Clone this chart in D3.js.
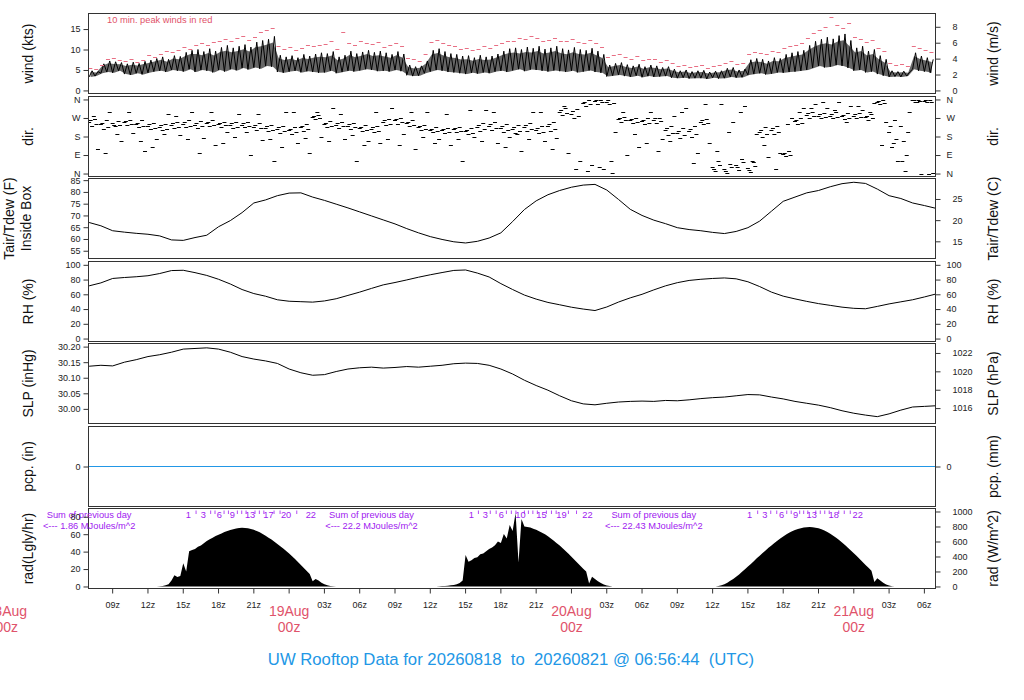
<!DOCTYPE html>
<html>
<head>
<meta charset="utf-8">
<title>UW Rooftop Data</title>
<script src="https://cdn.jsdelivr.net/npm/d3@7"></script>
<style>
  body { margin: 0; background: #fff; }
  text { font-family: "Liberation Sans", Arial, Helvetica, sans-serif; }
</style>
</head>
<body>
<div id="chart"></div>
<script>
// all times are hours counted from 2026-08-18 00:00 UTC
const T0 = Date.UTC(2026, 7, 18);
const tStart = 6 + 56 / 60 + 44 / 3600;
const tEnd = tStart + 72;

// half-hourly wind envelope and 10 min peaks (kts), from 07z 18 Aug
const windLo = [
  3.3,3.5, 4.2,4.5, 4.3,4.8, 4.0,3.8, 4.2,3.9, 4.3,4.6,
  4.8,4.5, 5.0,4.8, 4.6,5.2, 4.5,5.0, 4.8,4.4, 5.0,4.6,
  5.2,4.9, 5.5,5.1, 5.6,5.3, 6.0,5.8, 4.5,4.3, 4.6,4.8,
  4.4,4.7, 4.5,4.3, 4.4,4.8, 4.2,4.5, 4.8,4.6, 4.9,5.2,
  5.0,4.7, 4.8,4.6, 5.0,4.7, 3.7,3.5, 3.6,4.2, 4.6,5.0,
  4.8,4.5, 4.4,4.2, 4.0,4.3, 4.1,4.4, 4.2,4.6, 4.8,4.5,
  4.9,5.2, 4.7,5.1, 5.0,4.8, 4.6,4.9, 4.7,4.5, 4.8,4.4,
  4.6,4.9, 4.5,4.3, 3.4,3.6, 3.8,3.5, 3.3,3.6, 3.2,3.5,
  3.3,3.4, 3.5,3.1, 3.0,3.1, 2.9,3.0, 3.0,2.8, 3.1,2.9,
  3.0,3.3, 3.1,3.2, 3.8,4.0, 4.2,3.9, 4.1,4.4, 4.3,4.5,
  4.6,4.8, 5.0,5.5, 6.0,5.6, 5.8,6.2, 6.0,5.5, 4.8,5.0,
  4.4,4.6, 4.0,3.6, 3.3,3.4, 3.3,3.5, 5.2,4.8, 4.6,4.3
];
const windHi = [
  4.8,4.6, 6.5,7.2, 7.0,6.8, 6.5,6.9, 6.6,7.1, 7.4,7.8,
  8.2,7.6, 8.5,8.3, 9.3,9.8, 10.0,9.5, 10.2,9.6, 10.5,11.0,
  10.4,10.8, 11.2,10.6, 11.8,12.2, 12.5,13.2, 8.6,8.2, 8.5,8.0,
  8.8,8.4, 8.9,9.2, 9.0,9.5, 8.2,8.6, 9.6,9.0, 9.4,9.8,
  9.3,9.6, 9.2,8.8, 9.5,8.9, 6.2,5.8, 6.0,7.2, 9.8,10.2,
  9.5,9.0, 8.8,8.4, 8.5,8.0, 8.6,8.2, 8.4,8.9, 9.6,10.2,
  10.4,10.0, 10.6,10.3, 10.8,10.1, 10.4,10.8, 10.2,9.9, 10.5,10.0,
  9.8,10.3, 9.6,8.8, 6.2,6.6, 6.8,6.3, 6.0,6.4, 5.8,6.2,
  6.0,5.6, 5.8,5.2, 4.8,5.0, 4.6,4.8, 4.9,4.5, 4.7,4.8,
  5.4,5.6, 5.0,5.2, 7.5,7.8, 7.6,7.2, 8.0,7.8, 8.8,9.2,
  9.5,9.8, 11.0,12.0, 12.5,13.0, 12.6,13.4, 13.8,12.2, 10.4,10.8,
  9.6,10.0, 8.5,7.6, 4.8,4.6, 4.7,4.5, 9.2,8.4, 8.0,7.6
];
const windPeak = [
  5.6,5.3, 6.2,7.8, 8.0,7.4, 7.2,7.6, 7.0,7.4, 8.6,8.2,
  9.0,9.6, 9.4,10.0, 10.5,10.2, 11.2,11.6, 11.0,11.8, 12.2,12.6,
  12.0,12.8, 13.2,12.4, 13.0,14.2, 14.8,15.2, 10.8,10.2, 10.6,9.8,
  10.4,11.0, 10.8,11.2, 11.4,12.0, 10.2,14.4, 11.5,11.0, 12.0,11.6,
  11.4,11.8, 10.6,11.2, 11.5,10.9, 8.0,7.6, 7.2,8.8, 11.8,12.4,
  11.6,11.0, 10.8,10.2, 10.4,10.0, 10.2,10.8, 10.4,11.0, 11.5,12.0,
  12.2,12.8, 12.6,13.2, 12.9,12.2, 12.4,12.8, 12.2,12.0, 12.6,11.8,
  11.6,12.4, 11.6,10.6, 8.2,8.6, 8.8,8.2, 7.8,8.4, 7.4,7.8,
  7.6,7.0, 7.4,6.6, 6.0,6.3, 5.8,6.0, 6.2,5.6, 5.9,6.1,
  6.8,7.2, 6.4,6.6, 9.0,9.4, 9.2,8.8, 9.6,9.4, 10.4,10.8,
  11.2,11.6, 12.8,14.0, 14.8,15.6, 18.0,16.0, 15.2,16.4, 13.0,12.6,
  11.8,12.4, 10.4,9.6, 6.6,6.2, 6.4,6.0, 10.8,10.4, 9.8,9.4
];

// hourly wind direction samples (deg), from 07z 18 Aug
const dirA = [250,240,245,250,240,232,228,238,242,238,245,240,236,238,228,222,215,210,225,275,240,238,232,220,
  215,250,258,245,225,212,210,215,205,225,230,220,215,225,212,230,300,290,345,352,350,265,258,255,262,
  210,195,205,250,30,20,40,25,200,210,95,255,285,280,282,278,280,275,350,200,230,355,354];
const dirB = [230,215,230,235,225,215,210,220,225,222,230,228,222,225,212,205,195,190,205,265,225,222,215,205,
  200,235,240,230,210,200,198,200,190,205,210,200,195,205,195,205,285,270,330,340,338,250,245,240,248,
  185,175,180,240,10,5,15,8,180,190,85,240,270,268,270,265,268,262,340,130,160,348,346];
const dirC = [265,260,255,262,258,248,242,252,258,255,258,252,250,250,245,238,232,228,240,285,255,250,248,238,
  232,265,270,260,238,225,222,228,220,245,250,240,235,245,230,250,320,315,355,358,5,275,270,268,272,
  230,220,230,265,60,45,70,55,225,230,110,270,300,295,298,292,294,288,358,260,90,359,359];
const dirD = [258,248,238,255,248,240,235,245,250,246,252,246,244,244,236,230,224,218,232,280,248,244,240,228,
  224,258,264,252,232,218,216,222,212,235,240,230,225,235,222,240,310,302,350,355,356,270,264,262,268,
  220,205,215,258,20,12,30,18,212,220,100,262,292,288,290,285,287,282,354,230,60,357,356];
const dirE = [240,228,238,242,232,222,218,228,232,230,238,234,228,232,220,212,205,200,215,270,232,230,224,212,
  208,242,250,238,218,206,204,208,198,215,220,210,205,215,204,215,292,280,338,346,344,258,250,248,255,
  195,185,190,245,40,30,55,35,190,200,90,248,278,275,276,272,274,270,345,170,200,352,350];
const dirOut = [120,300,160,195,110,170,290,185,300,175,140,200,290,90,165,60,300,150,100,180,320,170,60,160,
  150,320,190,120,300,170,140,60,180,310,150,180,110,300,160,175,100,60,40,20,200,90,130,300,170,
  280,320,100,150,340,250,330,190,80,100,270,320,340,320,350,330,310,345,250,60,300,0,2];
const dirOut2 = [280,100,190,300,160,130,190,280,170,100,300,150,180,200,290,170,130,300,175,300,160,290,185,140,
  300,170,140,300,180,150,290,170,310,160,300,130,190,170,300,120,330,20,10,30,60,300,190,150,110,
  160,300,50,340,110,200,300,60,140,20,240,300,320,350,310,250,330,300,140,150,10,350,0];

// hourly air temperature (F), RH (%), sea level pressure (inHg), from 07z 18 Aug
const tempF = [67.0,65.6,63.5,62.9,62.4,62.0,61.3,59.6,59.4,60.6,
  61.6,65.2,67.8,71.2,75.3,76.6,78.4,79.5,79.6,77.8,
  76.4,74.8,73.2,71.5,69.8,68.1,66.4,64.4,62.6,61.0,
  59.8,58.8,58.3,59.0,60.4,62.6,67.4,72.5,76.2,78.8,
  80.6,82.0,82.9,83.2,80.8,76.8,72.6,70.0,68.0,66.5,
  64.8,64.0,63.5,62.8,62.3,63.2,64.8,67.6,71.8,76.0,
  77.8,79.6,80.6,82.2,83.5,84.1,83.6,81.2,78.4,77.2,
  75.3,74.2,73.0];
const rhPct = [71.5,75.5,81.5,82.8,83.8,85.2,88.2,92.2,92.6,89.4,
  85.6,80.4,74.0,66.5,61.0,57.4,52.6,50.6,50.0,49.4,
  51.0,54.0,58.5,63.0,68.0,72.8,76.0,79.5,83.2,86.5,
  89.5,92.4,93.0,88.8,83.5,74.5,66.5,59.0,53.5,49.0,
  45.8,42.5,40.0,38.0,42.8,49.5,55.2,60.0,66.0,71.5,
  75.8,78.8,80.4,81.5,82.2,81.0,77.0,70.5,63.0,57.5,
  53.8,50.4,47.4,45.0,42.6,41.0,40.4,43.6,47.0,49.8,
  52.6,56.4,60.5];
const slpInHg = [30.137,30.140,30.138,30.150,30.158,30.168,30.174,30.182,30.192,30.194,
  30.196,30.192,30.182,30.168,30.160,30.154,30.146,30.128,30.116,30.108,
  30.110,30.120,30.128,30.132,30.134,30.131,30.133,30.136,30.134,30.137,
  30.140,30.145,30.147,30.146,30.140,30.128,30.112,30.092,30.075,30.060,
  30.042,30.026,30.016,30.013,30.018,30.022,30.024,30.025,30.024,30.027,
  30.026,30.029,30.033,30.036,30.038,30.042,30.046,30.045,30.038,30.032,
  30.024,30.018,30.012,30.004,29.994,29.986,29.980,29.975,29.984,29.996,
  30.006,30.008,30.010];
const pcpIn = [0, 0];

// 15 min solar radiation (W/m^2) for each daylight period
const radStart = [12.5, 36.5, 60.25];
const radDay1 = [0,0,3,8,15,30,80,150,125,140,310,200,470,485,500,530,548,575,605,630,
  650,672,690,708,725,740,752,764,772,779,782,781,777,768,755,740,722,700,675,650,
  625,597,567,537,505,472,440,403,365,326,287,245,205,165,70,100,80,50,30,18,8,3,0];
const radDay2 = [0,3,5,8,10,15,20,30,45,80,420,330,350,380,390,430,440,470,500,520,
  550,600,580,700,640,820,740,980,320,900,800,792,785,770,755,738,718,695,670,640,
  610,578,545,510,472,435,396,358,318,278,238,200,40,130,100,70,45,25,12,5,0];
const radDay3 = [0,5,15,30,50,75,100,130,160,195,230,265,300,338,375,410,445,480,515,548,
  580,610,640,667,692,715,735,752,766,777,785,790,792,790,784,775,762,746,726,703,
  678,650,620,588,554,518,481,443,405,366,327,288,250,210,60,110,80,50,28,12,4,0];

// daily sums (MJ/m^2) printed at local midnight, and the times each MJ is reached
const radSumHours = [7, 31, 55];
const radSums = ["1.86", "22.2", "22.43"];
const radMJHours = [
  [15.43,16.09,16.71,17.33,17.70,18.07,18.47,18.84,19.18,19.60,19.97,20.34,20.68,21.10,21.47,21.85,22.24,22.72,23.23,23.74,24.65,25.85],
  [39.49,40.09,40.68,41.10,41.60,42.04,42.47,42.89,43.28,43.66,44.00,44.34,44.72,45.10,45.45,45.87,46.30,46.70,47.15,47.74,48.43,49.36],
  [63.15,63.83,64.43,64.94,65.45,65.87,66.30,66.68,67.06,67.40,67.74,68.09,68.43,68.77,69.15,69.53,69.91,70.30,70.72,71.19,71.70,72.34]
];
const radMJLabels = [[1,3,6,9,13,17,20,22], [1,3,6,10,15,19,22], [1,3,6,9,13,18,22]];

const dirTicks = [0, 90, 180, 270, 360];
const dirNames = ["N", "E", "S", "W", "N"];

const red = "#DF536B", blue = "#2297E6", purple = "#A020F0";

const svg = d3.select("#chart").append("svg")
    .attr("width", 1024)
    .attr("height", 700);

const at = h => new Date(T0 + h * 3600e3);
const x = d3.scaleUtc().domain([at(tStart), at(tEnd)]).range([88.5, 935.5]);
const panelH = 80;

function makePanel(top, domain) {
    const y = d3.scaleLinear().domain(domain).range([top + panelH, top]);
    const id = "clip" + Math.round(top);
    svg.append("clipPath").attr("id", id).append("rect")
        .attr("x", 88.5).attr("y", top).attr("width", 847).attr("height", panelH);
    const g = svg.append("g").attr("clip-path", `url(#${id})`);
    svg.append("rect")
        .attr("x", 88.5).attr("y", top).attr("width", 847).attr("height", panelH)
        .attr("fill", "none").attr("stroke", "#333");
    return {y, g, top};
}

function yAxis(scale, values, fmt, side, pad) {
    const ax = (side === "left" ? d3.axisLeft(scale) : d3.axisRight(scale))
        .tickValues(values).tickFormat(fmt).tickSize(5).tickPadding(pad);
    const g = svg.append("g")
        .attr("transform", `translate(${side === "left" ? 88.5 : 935.5},0)`)
        .call(ax);
    g.select(".domain").remove();
    g.selectAll("line").attr("stroke", "#333");
    g.selectAll("text").style("font-size", "9px").attr("fill", "#222");
}

function yTitle(p, lines, side) {
    const cy = p.top + panelH / 2;
    const xs = side === "left" ? (lines.length > 1 ? [14, 31] : [33]) : [998];
    lines.forEach((s, i) => {
        svg.append("text")
            .attr("transform", `translate(${xs[i]},${cy}) rotate(-90)`)
            .attr("text-anchor", "middle")
            .style("font-size", "14px")
            .attr("fill", "#111")
            .text(s);
    });
}

const ident = d => d;
const line = (p, hours, vals) => d3.line().x((d, i) => x(at(hours(i)))).y(d => p.y(d))(vals);

// wind: grey envelope of the 1 min record, then the jagged trace on top
const pWind = makePanel(13.5, [-0.75, 18.8]);
pWind.g.append("path")
    .attr("d", d3.area()
        .x((d, i) => x(at(7 + 0.5 * i + 0.125)))
        .y0(d => pWind.y(d))
        .y1((d, i) => pWind.y(windLo[i] + (windHi[i] - windLo[i]) * 0.8))(windLo))
    .attr("fill", "#000").attr("fill-opacity", 0.6);
const windPts = [];
windLo.forEach((v, i) => {
    windPts.push([7 + 0.5 * i, v]);
    windPts.push([7 + 0.5 * i + 0.25, windHi[i]]);
});
pWind.g.append("path")
    .attr("d", d3.line().x(d => x(at(d[0]))).y(d => pWind.y(d[1]))(windPts))
    .attr("fill", "none").attr("stroke", "#000").attr("stroke-width", 1);
pWind.g.selectAll(null).data(windPeak).join("line")
    .attr("x1", (d, i) => x(at(7.1 + 0.5 * i)) - 2)
    .attr("x2", (d, i) => x(at(7.1 + 0.5 * i)) + 2)
    .attr("y1", d => Math.round(pWind.y(d)) + 0.5)
    .attr("y2", d => Math.round(pWind.y(d)) + 0.5)
    .attr("stroke", "#E86F84").attr("stroke-width", 1);
svg.append("text").attr("x", 107).attr("y", 23)
    .style("font-size", "9.3px").attr("fill", red)
    .text("10 min. peak winds in red");
yAxis(pWind.y, [0, 5, 10, 15], ident, "left", 3);
yAxis(d3.scaleLinear().domain(pWind.y.domain().map(k => k / 1.94384)).range(pWind.y.range()),
    [0, 2, 4, 6, 8], ident, "right", 12);
yTitle(pWind, ["wind (kts)"], "left");
yTitle(pWind, ["wind (m/s)"], "right");

// direction
const pDir = makePanel(96.5, [-14.4, 374.4]);
const dirSeries = [dirA, dirD, dirB, dirC, dirE, dirOut, dirOut2];
const dirOffsets = [0, 0.125, 0.25, 0.5, 0.625, 0.75, 0.4];
dirSeries.forEach((arr, k) => {
    pDir.g.selectAll(null).data(arr).join("line")
        .attr("x1", (d, i) => x(at(7 + i + dirOffsets[k])) - 2)
        .attr("x2", (d, i) => x(at(7 + i + dirOffsets[k])) + 2)
        .attr("y1", d => Math.round(pDir.y(d)) + 0.5)
        .attr("y2", d => Math.round(pDir.y(d)) + 0.5)
        .attr("stroke", "#000").attr("stroke-width", 1);
});
yAxis(pDir.y, dirTicks, (d, i) => dirNames[i], "left", 3);
yAxis(pDir.y, dirTicks, (d, i) => dirNames[i], "right", 6);
yTitle(pDir, ["dir."], "left");
yTitle(pDir, ["dir."], "right");

// temperature
const pTemp = makePanel(178.5, [51.7, 85.7]);
pTemp.g.append("path").attr("d", line(pTemp, i => 7 + i, tempF))
    .attr("fill", "none").attr("stroke", "#000");
yAxis(pTemp.y, [55, 60, 65, 70, 75, 80, 85], ident, "left", 3);
yAxis(d3.scaleLinear().domain(pTemp.y.domain().map(f => (f - 32) / 1.8)).range(pTemp.y.range()),
    [15, 20, 25], ident, "right", 12);
yTitle(pTemp, ["Tair/Tdew (F)", "Inside Box"], "left");
yTitle(pTemp, ["Tair/Tdew (C)"], "right");

// relative humidity
const pRh = makePanel(261.5, [-4, 104.5]);
pRh.g.append("path").attr("d", line(pRh, i => 7 + i, rhPct))
    .attr("fill", "none").attr("stroke", "#000");
yAxis(pRh.y, [0, 20, 40, 60, 80, 100], ident, "left", 3);
yAxis(pRh.y, [0, 20, 40, 60, 80, 100], ident, "right", 6);
yTitle(pRh, ["RH (%)"], "left");
yTitle(pRh, ["RH (%)"], "right");

// pressure
const pSlp = makePanel(343.5, [29.953, 30.21]);
pSlp.g.append("path").attr("d", line(pSlp, i => 7 + i, slpInHg))
    .attr("fill", "none").attr("stroke", "#000");
yAxis(pSlp.y, [30.00, 30.05, 30.10, 30.15, 30.20], d3.format(".2f"), "left", 3);
yAxis(d3.scaleLinear().domain(pSlp.y.domain().map(p => p * 33.8639)).range(pSlp.y.range()),
    [1016, 1018, 1020, 1022], ident, "right", 12);
yTitle(pSlp, ["SLP (inHg)"], "left");
yTitle(pSlp, ["SLP (hPa)"], "right");

// precipitation
const pPcp = makePanel(426.5, [-1, 1]);
pPcp.g.append("path").attr("d", line(pPcp, i => i === 0 ? tStart : tEnd, pcpIn))
    .attr("fill", "none").attr("stroke", blue);
yAxis(pPcp.y, [0], ident, "left", 3);
yAxis(pPcp.y, [0], ident, "right", 6);
yTitle(pPcp, ["pcp. (in)"], "left");
yTitle(pPcp, ["pcp. (mm)"], "right");

// radiation
const pRad = makePanel(508.5, [-27, 1040]);
[radDay1, radDay2, radDay3].forEach((day, k) => {
    const area = d3.area()
        .x((d, i) => x(at(radStart[k] + 0.25 * i)))
        .y0(pRad.y(0))
        .y1(d => pRad.y(d));
    pRad.g.append("path").attr("d", area(day)).attr("fill", "#000");
});
radMJHours.forEach((hours, k) => {
    hours.forEach((h, i) => {
        const mj = i + 1;
        const px = x(at(h));
        if (radMJLabels[k].includes(mj)) {
            svg.append("text").attr("x", px).attr("y", 518)
                .attr("text-anchor", "middle").style("font-size", "9.3px")
                .attr("fill", purple).text(mj);
        } else {
            svg.append("line").attr("x1", px).attr("x2", px)
                .attr("y1", 510.5).attr("y2", 514)
                .attr("stroke", purple).attr("stroke-width", 0.8);
        }
    });
});
radSumHours.forEach((h, k) => {
    const t = svg.append("text").attr("text-anchor", "middle")
        .style("font-size", "9.3px").attr("fill", purple);
    t.append("tspan").attr("x", x(at(h))).attr("y", 518).text("Sum of previous day");
    t.append("tspan").attr("x", x(at(h))).attr("y", 529).text(`<--- ${radSums[k]} MJoules/m^2`);
});
yAxis(d3.scaleLinear().domain(pRad.y.domain().map(w => w / 11.622)).range(pRad.y.range()),
    [0, 20, 40, 60, 80], ident, "left", 3);
yAxis(pRad.y, [0, 200, 400, 600, 800, 1000], ident, "right", 12);
yTitle(pRad, ["rad(Lgly/hr)"], "left");
yTitle(pRad, ["rad (W/m^2)"], "right");

// time axis
const xTicks = d3.utcHour.every(3).range(at(tStart), at(tEnd));
svg.append("g").selectAll("line").data(xTicks).join("line")
    .attr("x1", d => x(d)).attr("x2", d => x(d))
    .attr("y1", 588.5).attr("y2", 593.5)
    .attr("stroke", "#333");
svg.append("g").selectAll("text").data(xTicks.filter(d => d.getUTCHours() !== 0)).join("text")
    .attr("x", d => x(d)).attr("y", 608)
    .attr("text-anchor", "middle").style("font-size", "9px").attr("fill", "#222")
    .text(d3.utcFormat("%Hz"));
const days = d3.utcDay.range(at(0), at(tEnd));
const dayLab = svg.append("g").selectAll("text").data(days).join("text")
    .attr("text-anchor", "middle").style("font-size", "14px").attr("fill", red);
dayLab.append("tspan").attr("x", d => x(d)).attr("y", 616).text(d3.utcFormat("%d%b"));
dayLab.append("tspan").attr("x", d => x(d)).attr("y", 632).text("00z");

svg.append("text").attr("x", 511).attr("y", 665)
    .attr("text-anchor", "middle").style("font-size", "16.7px").style("white-space", "pre")
    .attr("fill", blue)
    .text("UW Rooftop Data for 20260818  to  20260821 @ 06:56:44  (UTC)");
</script>
</body>
</html>
